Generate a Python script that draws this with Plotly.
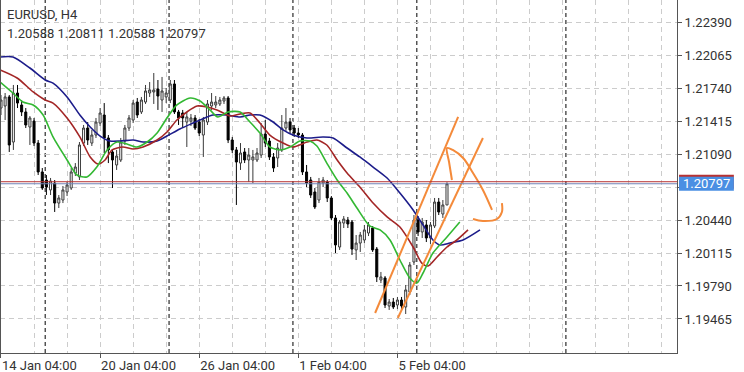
import plotly.graph_objects as go

# ---------------- data ----------------
bars = list(range(109))
opens = [1.21543, 1.21563, 1.21652, 1.21208, 1.21691, 1.21573, 1.21504, 1.21356, 1.21415, 1.21198,
         1.20913, 1.20834, 1.20736, 1.20804, 1.20607, 1.20637, 1.20716, 1.20755, 1.20903, 1.20864,
         1.21198, 1.21346, 1.21198, 1.21277, 1.21395, 1.21474, 1.21248, 1.21110, 1.20982, 1.21031,
         1.21218, 1.21346, 1.21425, 1.21602, 1.21504, 1.21602, 1.21691, 1.21701, 1.21730, 1.21622,
         1.21652, 1.21622, 1.21780, 1.21504, 1.21494, 1.21405, 1.21415, 1.21445, 1.21405, 1.21277,
         1.21405, 1.21563, 1.21573, 1.21583, 1.21612, 1.21642, 1.21228, 1.21130, 1.21001, 1.21110,
         1.21031, 1.21031, 1.21031, 1.21080, 1.21287, 1.21218, 1.21061, 1.21051, 1.21130, 1.21346,
         1.21405, 1.21346, 1.21297, 1.21277, 1.20913, 1.20834, 1.20716, 1.20637, 1.20804, 1.20814,
         1.20657, 1.20460, 1.20174, 1.20410, 1.20440, 1.20420, 1.20145, 1.20213, 1.20243, 1.20312,
         1.20361, 1.20154, 1.19849, 1.19869, 1.19593, 1.19632, 1.19603, 1.19652, 1.19583, 1.19731,
         1.20026, 1.20440, 1.20322, 1.20391, 1.20263, 1.20381, 1.20617, 1.20499, 1.20588]
highs = [1.21671, 1.21691, 1.21671, 1.21770, 1.21770, 1.21622, 1.21543, 1.21464, 1.21445, 1.21228,
         1.20952, 1.20883, 1.20854, 1.20834, 1.20686, 1.20775, 1.20814, 1.20952, 1.21001, 1.21208,
         1.21376, 1.21405, 1.21327, 1.21445, 1.21543, 1.21592, 1.21277, 1.21130, 1.21130, 1.21248,
         1.21376, 1.21474, 1.21622, 1.21642, 1.21652, 1.21770, 1.21799, 1.21888, 1.21819, 1.21849,
         1.21740, 1.21819, 1.21819, 1.21524, 1.21524, 1.21504, 1.21484, 1.21474, 1.21435, 1.21455,
         1.21622, 1.21691, 1.21661, 1.21652, 1.21661, 1.21661, 1.21258, 1.21159, 1.21198, 1.21149,
         1.21149, 1.21130, 1.21149, 1.21395, 1.21425, 1.21248, 1.21100, 1.21198, 1.21474, 1.21543,
         1.21445, 1.21376, 1.21346, 1.21297, 1.20982, 1.20864, 1.20755, 1.20854, 1.20864, 1.20834,
         1.20676, 1.20489, 1.20440, 1.20479, 1.20470, 1.20440, 1.20292, 1.20322, 1.20391, 1.20420,
         1.20381, 1.20174, 1.19928, 1.19888, 1.19662, 1.19672, 1.19682, 1.19682, 1.19800, 1.20026,
         1.20489, 1.20479, 1.20460, 1.20440, 1.20420, 1.20657, 1.20657, 1.20637, 1.20811]
lows = [1.21474, 1.21425, 1.21110, 1.21130, 1.21543, 1.21464, 1.21346, 1.21179, 1.21169, 1.20883,
        1.20736, 1.20686, 1.20686, 1.20519, 1.20558, 1.20607, 1.20676, 1.20736, 1.20873, 1.20834,
        1.21169, 1.21179, 1.21169, 1.21248, 1.21366, 1.21100, 1.21001, 1.20755, 1.20933, 1.21011,
        1.21179, 1.21317, 1.21395, 1.21445, 1.21484, 1.21583, 1.21652, 1.21583, 1.21524, 1.21504,
        1.21592, 1.21592, 1.21484, 1.21376, 1.21346, 1.21159, 1.21366, 1.21327, 1.21267, 1.21061,
        1.21376, 1.21524, 1.21543, 1.21563, 1.21583, 1.21198, 1.21100, 1.20588, 1.20933, 1.21001,
        1.20814, 1.20804, 1.21011, 1.21051, 1.21159, 1.21031, 1.20913, 1.20962, 1.21110, 1.21317,
        1.21297, 1.21258, 1.21248, 1.20883, 1.20765, 1.20657, 1.20548, 1.20607, 1.20765, 1.20617,
        1.20440, 1.20115, 1.20145, 1.20361, 1.20361, 1.20095, 1.20046, 1.20125, 1.20213, 1.20282,
        1.20125, 1.19829, 1.19819, 1.19573, 1.19554, 1.19563, 1.19563, 1.19563, 1.19514, 1.19701,
        1.19997, 1.20282, 1.20263, 1.20223, 1.20204, 1.20361, 1.20489, 1.20460, 1.20588]
closes = [1.21622, 1.21652, 1.21179, 1.21691, 1.21592, 1.21504, 1.21376, 1.21445, 1.21198, 1.20913,
          1.20755, 1.20765, 1.20824, 1.20607, 1.20657, 1.20736, 1.20785, 1.20913, 1.20962, 1.21179,
          1.21346, 1.21228, 1.21277, 1.21405, 1.21494, 1.21248, 1.21130, 1.21031, 1.21070, 1.21208,
          1.21346, 1.21445, 1.21592, 1.21474, 1.21622, 1.21711, 1.21721, 1.21721, 1.21661, 1.21711,
          1.21691, 1.21780, 1.21504, 1.21445, 1.21445, 1.21455, 1.21445, 1.21346, 1.21297, 1.21425,
          1.21583, 1.21602, 1.21602, 1.21622, 1.21642, 1.21228, 1.21130, 1.21011, 1.21100, 1.21031,
          1.21080, 1.21061, 1.21100, 1.21287, 1.21198, 1.21061, 1.20952, 1.21149, 1.21346, 1.21405,
          1.21327, 1.21297, 1.21277, 1.20913, 1.20804, 1.20686, 1.20568, 1.20814, 1.20834, 1.20657,
          1.20460, 1.20194, 1.20420, 1.20450, 1.20401, 1.20154, 1.20213, 1.20292, 1.20342, 1.20391,
          1.20145, 1.19879, 1.19879, 1.19603, 1.19632, 1.19583, 1.19652, 1.19593, 1.19751, 1.19997,
          1.20440, 1.20322, 1.20420, 1.20263, 1.20391, 1.20617, 1.20519, 1.20588, 1.20797]

# Alligator lines (jaw = blue, teeth = red, lips = green)
jaw_x = [-0.2, 2.9, 7.0, 10.7, 12.6, 16.0, 19.1, 21.6, 24.0, 26.4, 28.8, 32.0, 34.4, 37.8, 40.2,
         43.3, 46.5, 49.9, 51.3, 54.7, 57.9, 60.3, 62.7, 65.9, 68.3, 70.7, 74.1, 78.0, 80.4, 83.8,
         86.9, 90.1, 93.5, 96.6, 99.8, 102.2, 104.6, 106.3, 108.7, 111.9, 116.0]
jaw_y = [1.22046, 1.22046, 1.21937, 1.21819, 1.21789, 1.21652, 1.21474, 1.21356, 1.21267, 1.21218,
         1.21218, 1.21228, 1.21208, 1.21218, 1.21267, 1.21336, 1.21395, 1.21455, 1.21474, 1.21474,
         1.21455, 1.21474, 1.21474, 1.21405, 1.21327, 1.21277, 1.21248, 1.21258, 1.21248, 1.21149,
         1.21061, 1.20962, 1.20854, 1.20706, 1.20539, 1.20391, 1.20243, 1.20194, 1.20213, 1.20243,
         1.20342]
teeth_x = [-0.2, 3.9, 7.8, 10.7, 12.6, 16.0, 19.1, 21.6, 23.5, 25.2, 26.9, 29.5, 32.0, 34.4, 37.8,
           40.2, 42.6, 45.0, 47.5, 49.9, 52.3, 55.5, 57.9, 60.3, 62.7, 65.1, 68.3, 70.7, 74.1, 76.5,
           78.9, 81.4, 83.8, 86.9, 90.1, 93.5, 96.6, 99.8, 101.9, 103.4, 105.6, 108.0, 110.4, 113.1]
teeth_y = [1.21918, 1.21839, 1.21701, 1.21622, 1.21592, 1.21445, 1.21258, 1.21061, 1.20992, 1.21031,
           1.21130, 1.21159, 1.21139, 1.21159, 1.21228, 1.21307, 1.21425, 1.21504, 1.21563, 1.21553,
           1.21524, 1.21464, 1.21484, 1.21494, 1.21395, 1.21277, 1.21198, 1.21159, 1.21208, 1.21228,
           1.21179, 1.21031, 1.20903, 1.20765, 1.20607, 1.20470, 1.20371, 1.20174, 1.20016, 1.19987,
           1.20076, 1.20174, 1.20243, 1.20342]
lips_x = [-0.2, 2.9, 5.3, 7.8, 10.2, 12.6, 16.0, 18.4, 20.8, 23.2, 25.7, 28.1, 30.5, 32.9, 35.4,
          37.8, 40.2, 42.6, 45.8, 48.2, 50.6, 52.5, 55.0, 57.9, 60.3, 62.7, 65.1, 67.6, 70.0, 72.4,
          74.8, 76.5, 78.9, 81.4, 83.8, 86.2, 89.3, 91.8, 94.2, 96.6, 99.0, 100.7, 102.2, 104.6,
          108.0, 111.1]
lips_y = [1.21799, 1.21691, 1.21602, 1.21573, 1.21474, 1.21258, 1.21031, 1.20883, 1.20864, 1.20962,
          1.21130, 1.21208, 1.21189, 1.21159, 1.21208, 1.21297, 1.21445, 1.21573, 1.21642, 1.21612,
          1.21524, 1.21455, 1.21504, 1.21504, 1.21405, 1.21297, 1.21159, 1.21130, 1.21159, 1.21218,
          1.21218, 1.21169, 1.21001, 1.20834, 1.20706, 1.20558, 1.20381, 1.20342, 1.20243, 1.20046,
          1.19869, 1.19819, 1.19918, 1.20115, 1.20273, 1.20420]

# hand-drawn annotations (bar index, price)
channel1_x = [90.6, 110.7]
channel1_y = [1.19524, 1.21455]
channel2_x = [96.1, 116.7]
channel2_y = [1.19475, 1.21248]
curve_x = [109.2, 108.5, 108.0, 109.4, 111.9, 114.3, 116.7, 118.9]
curve_y = [1.20834, 1.21011, 1.21149, 1.21130, 1.21051, 1.20903, 1.20736, 1.20539]
hook_x = [114.3, 116.7, 120.1, 121.3, 121.3]
hook_y = [1.20450, 1.20430, 1.20450, 1.20519, 1.20607]

separators = [10.7, 40.7, 70.7, 100.7, 136.8]
tick_bars = [0, 24, 48, 72, 96]
tick_labels = ["14 Jan 04:00", "20 Jan 04:00", "26 Jan 04:00", "1 Feb 04:00", "5 Feb 04:00"]
price_ticks = [1.19465, 1.19790, 1.20115, 1.20440, 1.20765, 1.21090, 1.21415, 1.21740, 1.22065, 1.22390]
price_labels = ["1.19465", "1.19790", "1.20115", "1.20440", "", "1.21090", "1.21415", "1.21740", "1.22065", "1.22390"]
bid = 1.20797
ask = 1.20817
symbol = "EURUSD, H4"
ohlc_text = "1.20588 1.20811 1.20588 1.20797"

# ---------------- figure ----------------
FONT = "Roboto"
TXT = "#333333"
GRID = "#cccccc"

fig = go.Figure()
fig.add_trace(go.Candlestick(
    x=bars, open=opens, high=highs, low=lows, close=closes,
    increasing=dict(line=dict(color="#3a3a3a", width=1), fillcolor="#ffffff"),
    decreasing=dict(line=dict(color="#000000", width=1), fillcolor="#000000"),
    whiskerwidth=0, showlegend=False, hoverinfo="skip"))

for xs, ys, col in [(jaw_x, jaw_y, "#1c1c8a"), (teeth_x, teeth_y, "#a32626"), (lips_x, lips_y, "#33b833")]:
    fig.add_trace(go.Scatter(x=xs, y=ys, mode="lines",
                             line=dict(color=col, width=1.6, shape="spline", smoothing=0.7),
                             showlegend=False, hoverinfo="skip"))

ORANGE = "#f48a3a"
for xs, ys, sh in [(channel1_x, channel1_y, "linear"), (channel2_x, channel2_y, "linear"),
                   (curve_x, curve_y, "spline"), (hook_x, hook_y, "spline")]:
    fig.add_trace(go.Scatter(x=xs, y=ys, mode="lines",
                             line=dict(color=ORANGE, width=2, shape=sh),
                             showlegend=False, hoverinfo="skip"))

shapes = []
for s in separators:
    shapes.append(dict(type="line", xref="x", yref="paper", x0=s, x1=s, y0=0, y1=1,
                       line=dict(color="#000000", width=1, dash="4px,3px"), layer="below"))
# bid / ask lines
shapes.append(dict(type="line", xref="paper", yref="y", x0=0, x1=1, y0=ask, y1=ask,
                   line=dict(color="#b83232", width=1)))
shapes.append(dict(type="line", xref="paper", yref="y", x0=0, x1=1, y0=bid, y1=bid,
                   line=dict(color="#7185b8", width=1)))
# price labels on the axis
half = 0.00069
shapes.append(dict(type="rect", xref="paper", yref="y", x0=1.003, x1=1.084,
                   y0=ask - half, y1=ask + half, fillcolor="#b83232", line=dict(width=0)))
shapes.append(dict(type="rect", xref="paper", yref="y", x0=1.003, x1=1.084,
                   y0=bid - half, y1=bid + half, fillcolor="#4a8fe3", line=dict(width=0)))
# left border
shapes.append(dict(type="line", xref="paper", yref="paper", x0=0, x1=0, y0=0, y1=1,
                   line=dict(color="#555555", width=2)))

annotations = [
    dict(text=symbol, xref="paper", yref="paper", x=0.0074, y=0.960, xanchor="left", yanchor="middle",
         showarrow=False, font=dict(family=FONT, size=13, color=TXT)),
    dict(text=ohlc_text, xref="paper", yref="paper", x=0.0074, y=0.906, xanchor="left", yanchor="middle",
         showarrow=False, font=dict(family=FONT, size=13, color=TXT)),
    dict(text=f"{bid:.5f}", xref="paper", yref="y", x=1.0435, y=bid, xanchor="center", yanchor="middle",
         showarrow=False, font=dict(family=FONT, size=13, color="#ffffff")),
]

fig.update_layout(
    width=744, height=372,
    margin=dict(l=0, r=67, t=0, b=19),
    paper_bgcolor="#ffffff", plot_bgcolor="#ffffff",
    font=dict(family=FONT, size=13, color=TXT),
    shapes=shapes, annotations=annotations,
    xaxis=dict(range=[-0.24, 163.7], rangeslider=dict(visible=False),
               tickvals=tick_bars, ticktext=tick_labels, ticklabelposition="outside right",
               ticks="outside", ticklen=4, tickcolor="#555555",
               showgrid=True, gridcolor=GRID, griddash="5px,4px", gridwidth=1,
               minor=dict(dtick=8, tick0=0, showgrid=True, gridcolor=GRID, griddash="5px,4px"),
               showline=True, linecolor="#555555", linewidth=1, zeroline=False,
               tickfont=dict(family=FONT, size=13, color=TXT), fixedrange=True),
    yaxis=dict(range=[1.19130, 1.22607], side="right",
               tickvals=price_ticks, ticktext=price_labels,
               ticks="outside", ticklen=4, tickcolor="#555555",
               showgrid=True, gridcolor=GRID, griddash="5px,4px", gridwidth=1,
               showline=True, linecolor="#555555", linewidth=1, zeroline=False,
               tickfont=dict(family=FONT, size=13, color=TXT), fixedrange=True),
)

fig.write_html("out.html")
